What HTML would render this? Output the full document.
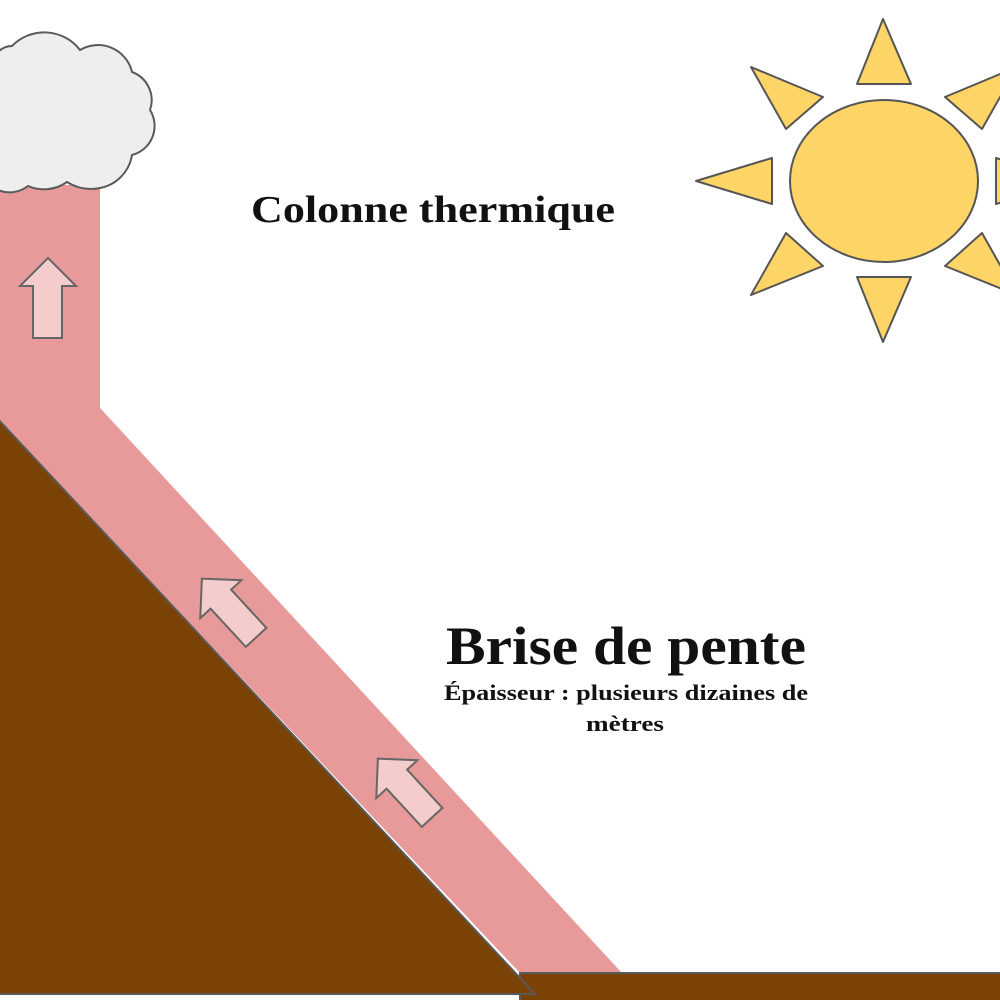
<!DOCTYPE html>
<html><head><meta charset="utf-8"><style>
html,body{margin:0;padding:0;background:#fff;}
svg{display:block}
</style></head><body>
<svg width="1000" height="1000" viewBox="0 0 1000 1000" xmlns="http://www.w3.org/2000/svg">
<rect width="1000" height="1000" fill="#fff"/>
<polygon points="0,185 100,185 100,408 622,973 520,973 0,422" fill="#e89a9a"/>
<rect x="520" y="973" width="485" height="30" fill="#7a4204" stroke="#5a5a5a" stroke-width="2"/>
<polygon points="-5,416 535,994 -5,994" fill="#7a4204" stroke="#5a5a5a" stroke-width="2"/>
<path d="M-2,190 L-2,52 A20,20 0 0 1 12,46 A45,45 0 0 1 80,50 A35,35 0 0 1 132,72 A30,30 0 0 1 150,110 A30,30 0 0 1 132,155 A40,40 0 0 1 100,188 A45,45 0 0 1 67,182 A40,40 0 0 1 28,186 A30,30 0 0 1 -2,190 Z" fill="#eeeeee" stroke="#5a5a5a" stroke-width="2"/>
<polygon points="48,258 76,286 62,286 62,338 33,338 33,286 20,286" fill="#f5cccc" stroke="#666" stroke-width="2"/>
<g transform="translate(229,608) rotate(-42.7)">
<polygon points="0,-40 28,-12 14,-12 14,40 -14,40 -14,-12 -28,-12" fill="#f5cccc" stroke="#666" stroke-width="2"/>
</g>
<g transform="translate(405,788) rotate(-42.7)">
<polygon points="0,-40 28,-12 14,-12 14,40 -14,40 -14,-12 -28,-12" fill="#f5cccc" stroke="#666" stroke-width="2"/>
</g>
<g fill="#fdd466" stroke="#555" stroke-width="2" stroke-linejoin="round">
<ellipse cx="884" cy="181" rx="94" ry="81"/>
<polygon points="883,19 857,84 911,84"/>
<polygon points="883,342 857,277 911,277"/>
<polygon points="696,181 772,158 772,204"/>
<polygon points="1072,181 996,158 996,204"/>
<polygon points="751,67 823,97 786,129"/>
<polygon points="751,295 786,233 823,266"/>
<polygon points="1017,67 945,97 982,129"/>
<polygon points="1017,295 982,233 945,266"/>
</g>
<g font-family="'Liberation Serif', serif" fill="#111" font-weight="bold">
<text x="251" y="222" font-size="38" textLength="364" lengthAdjust="spacingAndGlyphs">Colonne thermique</text>
<text x="446" y="664" font-size="54" textLength="360" lengthAdjust="spacingAndGlyphs">Brise de pente</text>
<text x="444" y="700" font-size="22" textLength="364" lengthAdjust="spacingAndGlyphs">Épaisseur : plusieurs dizaines de</text>
<text x="586" y="731" font-size="22" textLength="78" lengthAdjust="spacingAndGlyphs">mètres</text>
</g>
</svg>
</body></html>
